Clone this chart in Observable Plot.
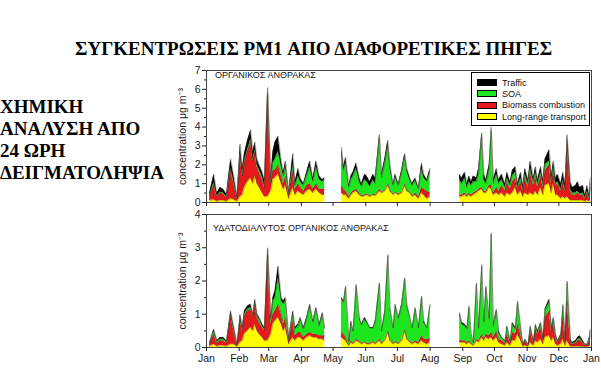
<!DOCTYPE html>
<html><head><meta charset="utf-8">
<script src="https://cdn.jsdelivr.net/npm/d3@7"></script>
<script src="https://cdn.jsdelivr.net/npm/@observablehq/plot@0.6"></script>
<style>
body{margin:0;background:#fff;width:601px;height:388px;overflow:hidden;position:relative;font-family:Arial,"Liberation Sans",sans-serif}
#title{position:absolute;left:75px;top:38px;font:bold 19px "Liberation Serif","Times New Roman",serif;color:#000;white-space:nowrap}
#side{position:absolute;left:0;top:96px;font:bold 19px "Liberation Serif","Times New Roman",serif;line-height:22px;color:#000;white-space:nowrap}
.panel{position:absolute;left:0}
.ptitle{position:absolute;font-size:9px;color:#111;white-space:nowrap;letter-spacing:0}
#legend{position:absolute;left:471px;top:72px;width:119px;height:54px;border:1px solid #000;background:#fff;box-sizing:border-box;padding-top:4px}
.lrow{display:flex;align-items:center;height:11.3px;font-size:9px;color:#111;white-space:nowrap}
.sw{width:20px;height:7px;border:1px solid #000;margin:0 5px 0 5px;box-sizing:border-box;flex:none}
</style></head><body>
<div id="title">ΣΥΓΚΕΝΤΡΩΣΕΙΣ PM1 ΑΠΟ ΔΙΑΦΟΡΕΤΙΚΕΣ ΠΗΓΕΣ</div>
<div id="side">ΧΗΜΙΚΗ<br>ΑΝΑΛΥΣΗ ΑΠΟ<br>24 ΩΡΗ<br>ΔΕΙΓΜΑΤΟΛΗΨΙΑ</div>
<div id="p1" class="panel" style="top:60px"></div>
<div id="p2" class="panel" style="top:207px"></div>
<div class="ptitle" style="left:215px;top:70px">ΟΡΓΑΝΙΚΟΣ ΑΝΘΡΑΚΑΣ</div>
<div class="ptitle" style="left:213px;top:223px">ΥΔΑΤΟΔΙΑΛΥΤΟΣ ΟΡΓΑΝΙΚΟΣ ΑΝΘΡΑΚΑΣ</div>
<div id="legend"></div>
<script>
// sampling days (day of year, 0 = 1 Jan)
const days = [3,7,10,13,16,19,23,26,29,32,34,36,39,42,44,46,48,50,53,55,58,61,63,65,68,71,73,75,78,82,84,87,89,92,95,98,101,104,107,110,112,
128,130,132,135,137,139,142,145,147,150,152,155,158,160,164,166,169,172,174,177,179,182,185,188,190,193,195,198,201,204,206,209,212,
240,242,245,247,249,251,253,256,258,261,263,265,268,270,272,275,277,280,283,285,288,290,293,295,298,300,302,305,307,310,312,314,317,319,321,325,327,329,331,333,336,338,340,342,345,347,350,352,354,357,359,361,363,364];

// Organic carbon (top panel)
const ocLRT = [.1,.15,.05,.1,.1,.05,.2,.15,.05,.3,.4,.8,1.1,1.3,1.0,1.4,1.0,.8,.5,.3,.3,.6,1.2,1.3,1.5,1.0,.7,.9,.2,.8,.4,.6,.5,.4,.6,.7,.5,.7,.5,.4,.4,
.5,.4,.4,.2,.4,.5,.6,.4,.3,.35,.4,.3,.4,.35,.6,.5,.6,.9,.6,.4,.5,.4,.5,.9,.6,.5,.3,.4,.2,.5,.4,.2,.3,
.3,.3,.4,.3,.4,.3,.4,.5,.6,.7,.5,.5,.8,.7,.4,.5,.4,.5,.3,.5,.4,.5,.8,.4,.6,.3,.5,.4,.5,.4,.6,.4,.8,.4,.9,1.0,.5,1.0,.4,.4,.2,.3,.2,.3,.1,.1,.1,.1,.1,.1,.05,.1,.05,.1];
const ocBiomass = [.2,.8,.25,.4,.35,.2,1.5,.85,.15,2.2,1.0,1.3,1.6,1.9,1.2,1.3,.9,.8,.7,.5,5.4,.4,.5,.4,.5,.4,.3,.5,.2,.9,.3,.4,.3,.2,.3,.3,.2,.3,.2,.3,.3,
.4,.3,.2,.1,.1,.1,.1,.1,.05,.05,.05,.05,.05,.05,.1,.05,.05,.1,.05,.05,.05,.05,.05,.1,.05,.05,.05,.1,.1,.3,.3,.4,.2,
.1,.1,.1,.05,.1,.1,.1,.1,.1,.1,.1,.1,.1,.2,.1,.3,.2,.4,.3,.6,.3,.6,.5,.3,.5,.3,.8,.4,1.1,.5,.8,.4,.6,.4,.8,1.0,.5,.7,.5,.6,.4,.8,.4,2.8,.5,.3,.3,.4,.3,.3,.15,.4,.15,.7];
const ocSOA = [.05,.1,.05,.05,.05,.05,.1,.1,.02,.1,.1,.1,.1,.15,.1,.1,.1,.15,.15,.1,.1,.1,.4,.6,.7,.5,.4,.5,.1,.3,.2,.4,.3,.3,.5,.9,.4,.9,.5,.4,.5,
1.75,1.0,1.5,.5,.7,.8,1.1,.6,.5,.8,.65,.5,.75,.6,2.7,.75,1.4,2.0,1.15,.45,.8,.45,1.0,1.4,1.0,.6,.55,.65,.4,1.0,.6,.5,1.1,
.8,.6,.8,.45,.6,.5,.6,.5,.8,2.7,.6,.4,.8,2.9,.5,.7,.4,.3,.2,.2,.2,.3,.3,.1,.2,.1,.2,.2,.2,.2,.2,.2,.2,.2,.3,.2,.1,.2,.1,.1,.1,.1,.1,.2,.1,.1,.1,.1,.05,.1,.05,.1,.05,.2];
const ocTraffic = [.15,.45,.15,.25,.2,.15,.5,.3,.08,.5,.3,.4,.5,.5,.4,.4,.3,.25,.25,.3,.3,.2,.6,.9,.8,.3,.2,.3,.1,.6,.2,.4,.2,.1,.2,.3,.2,.3,.2,.1,.1,
.3,.2,.3,.1,.2,.2,.3,.2,.15,.3,.3,.25,.3,.3,.2,.2,.25,.3,.2,.1,.15,.1,.15,.2,.15,.15,.1,.15,.1,.3,.2,.1,.2,
.3,.3,.3,.2,.3,.2,.3,.2,.3,.2,.3,.2,.3,.2,.2,.3,.2,.3,.2,.3,.2,.3,.3,.2,.3,.2,.3,.2,.4,.2,.3,.2,.3,.2,.3,.6,.3,.3,.3,.4,.3,.4,.3,.3,.4,.3,.4,.5,.35,.4,.15,.3,.15,.3];

// Water-soluble organic carbon (bottom panel)
const wsLRT = [.03,.1,.03,.05,.05,.03,.1,.1,.02,.15,.2,.4,.5,.6,.5,.7,.5,.4,.3,.2,.2,.4,.7,.8,.9,.7,.5,.6,.1,.3,.2,.3,.3,.2,.3,.35,.3,.3,.25,.25,.2,
.3,.25,.2,.05,.15,.1,.2,.15,.1,.15,.1,.1,.15,.1,.2,.1,.2,.45,.2,.1,.15,.1,.2,.5,.25,.15,.1,.15,.1,.2,.15,.1,.15,
.15,.15,.15,.1,.15,.1,.05,.2,.15,.3,.2,.3,.25,.3,.2,.3,.15,.1,.05,.15,.05,.2,.2,.4,.2,.03,.05,.03,.15,.05,.2,.15,.25,.1,.3,.35,.2,.3,.1,.05,.1,.25,.05,.2,.03,.02,.02,.03,.03,.02,.01,.01,.03,.05];
const wsBiomass = [.08,.3,.1,.15,.15,.1,.85,.4,.05,.7,.3,.55,.6,.55,.4,.6,.4,.35,.3,.3,2.6,.3,.3,.3,.4,.3,.2,.3,.1,.5,.15,.15,.15,.1,.1,.1,.1,.1,.1,.1,.15,
.15,.15,.1,.03,.05,.03,.05,.03,.03,.03,.03,.03,.03,.03,.05,.03,.03,.05,.03,.03,.03,.03,.03,.05,.03,.03,.03,.05,.05,.15,.1,.15,.12,
.05,.05,.05,.05,.05,.03,.02,.05,.05,.1,.05,.1,.1,.15,.1,.2,.1,.1,.08,.25,.08,.25,.2,.3,.2,.04,.15,.04,.35,.1,.35,.25,.35,.15,.6,.75,.3,.45,.2,.1,.2,.7,.15,1.2,.15,.08,.1,.15,.2,.1,.05,.05,.15,.3];
const wsSOA = [.02,.1,.04,.05,.05,.04,.05,.05,.02,.05,.05,.05,.05,.05,.05,.05,.05,.1,.05,.05,.15,.15,.4,.4,.8,.4,.6,.5,.07,.2,.2,.2,.4,.25,.45,.8,.35,.75,.3,.65,.2,
1.0,.95,1.5,.1,.55,.35,1.6,.67,.55,.67,.62,.45,.4,.62,1.65,.35,.82,2.25,.92,.45,1.07,.75,1.02,1.5,.97,.7,.45,.95,.43,1.15,.5,.33,.98,
.8,.5,.45,.4,1.0,.25,.07,1.65,.37,2.05,.5,1.4,.5,2.95,.35,.6,.2,.07,.05,.2,.05,.25,.15,.65,.15,.02,.03,.02,.1,.03,.1,.05,.1,.03,.2,.25,.05,.1,.05,.03,.05,.3,.05,.55,.02,.02,.03,.05,.05,.03,.02,.02,.07,.12];
const wsTraffic = [.02,.05,.03,.05,.05,.03,.1,.05,.01,.1,.05,.1,.1,.1,.05,.1,.05,.05,.05,.05,.05,.05,.1,.2,.35,.1,.1,.1,.03,.1,.05,.05,.05,.05,.05,.05,.05,.05,.05,.05,.05,
.05,.05,.05,.02,.05,.02,.05,.05,.02,.05,.05,.02,.02,.05,.05,.02,.05,.05,.05,.02,.05,.02,.05,.05,.05,.02,.02,.05,.02,.05,.05,.02,.05,
.05,.05,.05,.05,.05,.02,.01,.05,.03,.05,.05,.05,.05,.05,.05,.05,.05,.03,.02,.05,.02,.05,.05,.05,.05,.01,.02,.01,.05,.02,.05,.05,.05,.02,.05,.1,.05,.05,.05,.02,.05,.05,.05,.05,.05,.03,.05,.07,.07,.05,.02,.02,.05,.08];

// stack order bottom -> top
const sourceNames = ["Long-range transport","Biomass combustion","SOA","Traffic"];
const sourceColors = ["#ffff00","#e3191c","#1ee61e","#000000"];
const legendOrder = ["Traffic","SOA","Biomass combustion","Long-range transport"];

const monthTicks = [0,31,59,90,120,151,181,212,243,273,304,334,365];
const monthLabels = ["Jan","Feb","Mar","Apr","May","Jun","Jul","Aug","Sep","Oct","Nov","Dec","Jan"];
const ocTicks = [0,1,2,3,4,5,6,7];
const wsTicks = [0,1,2,3,4];
const yLabel = "concentration μg m⁻³";

function buildRows(seriesValues) {
  const rows = [];
  for (let i = 0; i < days.length; i++) {
    if (i > 0 && days[i] - days[i-1] > 10) {
      const mid = (days[i] + days[i-1]) / 2;
      sourceNames.forEach(n => rows.push({day: mid, layer: n, y1: NaN, y2: NaN}));
    }
    let acc = 0;
    sourceNames.forEach((n, k) => {
      const v = seriesValues[k][i];
      rows.push({day: days[i], layer: n, y1: acc, y2: acc + v});
      acc += v;
    });
  }
  return rows;
}

const style = {fontFamily: "Arial, 'Liberation Sans', sans-serif", fontSize: "10px", color: "#222", background: "transparent", overflow: "visible"};

function panel(rows, yDomain, yTicks, height, mt, mb, showLabels) {
  const minor = d3.range(0.5, yDomain[1], 1);
  return Plot.plot({
    width: 601, height, marginLeft: 206, marginRight: 10, marginTop: mt, marginBottom: mb,
    style,
    x: {domain: [0, 365]},
    y: {domain: yDomain},
    color: {domain: sourceNames, range: sourceColors},
    marks: [
      Plot.areaY(rows, {x: "day", y1: "y1", y2: "y2", fill: "layer", z: "layer"}),
      Plot.line(rows, {x: "day", y: "y2", z: "layer", stroke: "#3a3a2a", strokeWidth: 0.5, strokeOpacity: 0.7}),
      Plot.frame({stroke: "#444", strokeWidth: 1}),
      Plot.axisX(monthTicks, {tickSize: 4, tickPadding: 3, fontSize: 10.5,
        tickFormat: showLabels ? (d => monthLabels[monthTicks.indexOf(d)]) : (() => ""), label: null}),
      Plot.axisY(minor, {tickSize: 2, tickFormat: () => "", label: null}),
      Plot.axisY(yTicks, {tickSize: 4, tickPadding: 2, fontSize: 10.5, tickFormat: d => String(d),
        label: yLabel, labelAnchor: "center", labelArrow: "none", labelOffset: 28})
    ]
  });
}

document.getElementById("p1").append(panel(buildRows([ocLRT, ocBiomass, ocSOA, ocTraffic]), [0, 7], ocTicks, 150, 10, 8, false));
document.getElementById("p2").append(panel(buildRows([wsLRT, wsBiomass, wsSOA, wsTraffic]), [0, 4], wsTicks, 165, 7, 25, true));

const lg = document.getElementById("legend");
legendOrder.forEach(n => {
  const r = document.createElement("div"); r.className = "lrow";
  const s = document.createElement("div"); s.className = "sw"; s.style.background = sourceColors[sourceNames.indexOf(n)];
  const t = document.createElement("span"); t.textContent = n;
  r.append(s, t); lg.append(r);
});
</script>
</body></html>
